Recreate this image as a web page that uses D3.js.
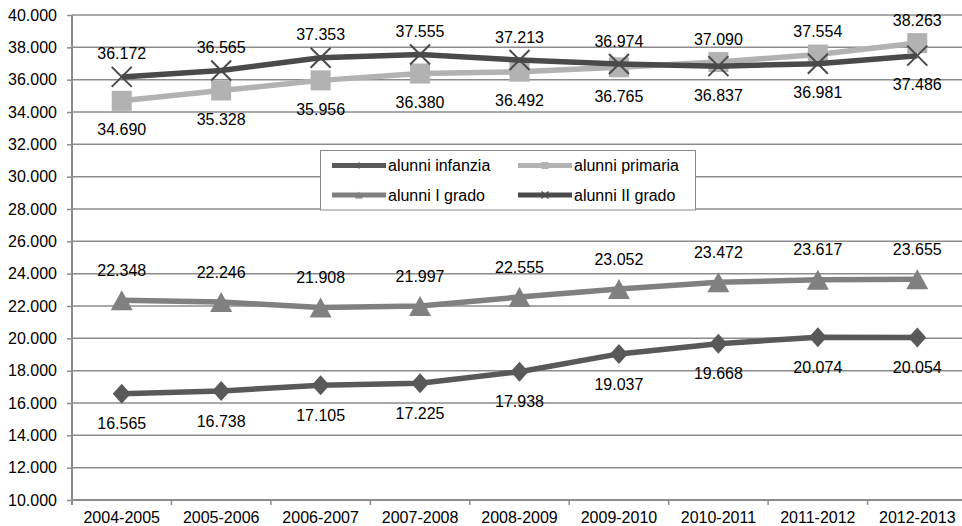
<!DOCTYPE html>
<html>
<head>
<meta charset="utf-8">
<script src="https://cdn.jsdelivr.net/npm/d3@7"></script>
<style>
  html, body { margin: 0; padding: 0; background: #fff; }
  svg { display: block; font-family: "Liberation Sans", Arial, sans-serif; }
</style>
</head>
<body>
<svg id="chart" width="962" height="526"></svg>
<script>
const categories = ["2004-2005","2005-2006","2006-2007","2007-2008","2008-2009","2009-2010","2010-2011","2011-2012","2012-2013"];
const alunniInfanzia = [16565, 16738, 17105, 17225, 17938, 19037, 19668, 20074, 20054];
const alunniPrimaria = [34690, 35328, 35956, 36380, 36492, 36765, 37090, 37554, 38263];
const alunniIGrado   = [22348, 22246, 21908, 21997, 22555, 23052, 23472, 23617, 23655];
const alunniIIGrado  = [36172, 36565, 37353, 37555, 37213, 36974, 36837, 36981, 37486];
const seriesNames = ["alunni infanzia", "alunni primaria", "alunni I grado", "alunni II grado"];
const yTicks = [10000, 12000, 14000, 16000, 18000, 20000, 22000, 24000, 26000, 28000, 30000, 32000, 34000, 36000, 38000, 40000];

(function () {
const itLocale = d3.formatLocale({decimal: ",", thousands: ".", grouping: [3], currency: ["€", ""]});
const fmt = itLocale.format(",");

const svg = d3.select("#chart");
const mLeft = 72, mRight = 967, mTop = 15, mBottom = 500;

const x = d3.scaleBand().domain(categories).range([mLeft, mRight]).padding(0);
const y = d3.scaleLinear().domain([10000, 40000]).range([mBottom, mTop]);
const cx = c => x(c) + x.bandwidth() / 2;

const gridColor = "#8c8c8c";

// gridlines
svg.append("g").selectAll("line").data(yTicks.filter(t => t > 10000)).join("line")
  .attr("x1", mLeft).attr("x2", 962)
  .attr("y1", d => y(d)).attr("y2", d => y(d))
  .attr("stroke", gridColor).attr("stroke-width", 1.5);

// y axis
const yAxis = svg.append("g").attr("transform", `translate(${mLeft},0)`)
  .call(d3.axisLeft(y).tickValues(yTicks).tickFormat(fmt).tickSize(5).tickPadding(10));
yAxis.select(".domain").attr("stroke", gridColor).attr("stroke-width", 2).attr("d", `M0,${mTop}V${mBottom + 5}`);
yAxis.selectAll(".tick line").attr("stroke", gridColor).attr("stroke-width", 1.5);
yAxis.selectAll(".tick text").attr("font-size", 16).attr("fill", "#000")
  .attr("font-family", "'Liberation Sans', Arial, sans-serif").attr("x", -15);

// x axis
const xAxis = svg.append("g").attr("transform", `translate(0,${mBottom})`)
  .call(d3.axisBottom(x).tickSize(0).tickPadding(0));
xAxis.select(".domain").attr("stroke", gridColor).attr("stroke-width", 2).attr("d", `M${mLeft},0H962`);
xAxis.selectAll(".tick text").attr("font-size", 16).attr("fill", "#000")
  .attr("font-family", "'Liberation Sans', Arial, sans-serif").attr("y", 23).attr("dy", 0);
// boundary tick marks
svg.append("g").selectAll("line").data(categories.slice(1)).join("line")
  .attr("x1", d => x(d)).attr("x2", d => x(d))
  .attr("y1", mBottom).attr("y2", mBottom + 5)
  .attr("stroke", gridColor).attr("stroke-width", 1.5);

const series = [
  {name: seriesNames[0], values: alunniInfanzia, color: "#595959", marker: "diamond", pair: alunniIGrado, upOff: 30, downOff: 30},
  {name: seriesNames[1], values: alunniPrimaria, color: "#b2b2b2", marker: "square", pair: alunniIIGrado, upOff: 23, downOff: 29},
  {name: seriesNames[2], values: alunniIGrado, color: "#808080", marker: "triangle", pair: alunniInfanzia, upOff: 30, downOff: 30},
  {name: seriesNames[3], values: alunniIIGrado, color: "#4a4a4a", marker: "cross", pair: alunniPrimaria, upOff: 23, downOff: 29}
];

function drawMarker(g, type, px, py, color, s) {
  if (type === "diamond") {
    g.append("path").attr("d", `M${px},${py - s}L${px + s * 0.9},${py}L${px},${py + s}L${px - s * 0.9},${py}Z`).attr("fill", color);
  } else if (type === "square") {
    g.append("rect").attr("x", px - s).attr("y", py - s).attr("width", 2 * s).attr("height", 2 * s).attr("fill", color);
  } else if (type === "triangle") {
    g.append("path").attr("d", `M${px},${py - s}L${px + s * 1.1},${py + s}L${px - s * 1.1},${py + s}Z`).attr("fill", color);
  } else if (type === "cross") {
    g.append("path").attr("d", `M${px - s},${py - s}L${px + s},${py + s}M${px + s},${py - s}L${px - s},${py + s}`)
      .attr("stroke", color).attr("stroke-width", s > 5 ? 2 : 1.5).attr("fill", "none");
  }
}

const line = d3.line().x((d, i) => cx(categories[i])).y(d => y(d));
const plot = svg.append("g");
series.forEach(s => {
  const g = plot.append("g");
  g.append("path").datum(s.values).attr("d", line)
    .attr("fill", "none").attr("stroke", s.color).attr("stroke-width", 5.5).attr("stroke-linejoin", "round");
  s.values.forEach((v, i) => drawMarker(g, s.marker, cx(categories[i]), y(v), s.color, 10));
});

// data labels
const labels = svg.append("g");
series.forEach(s => {
  s.values.forEach((v, i) => {
    const above = v > s.pair[i];
    const py = y(v) + (above ? -s.upOff : s.downOff);
    labels.append("text").attr("x", cx(categories[i])).attr("y", py).attr("dy", "0.35em")
      .attr("text-anchor", "middle").attr("font-size", 16).attr("fill", "#000").text(fmt(v));
  });
});

// legend
const lg = svg.append("g");
lg.append("rect").attr("x", 320.5).attr("y", 150.5).attr("width", 375).attr("height", 59.5)
  .attr("fill", "#fff").attr("stroke", "#8c8c8c").attr("stroke-width", 1);
const legPos = [[332, 165.5], [518, 165.5], [332, 195], [518, 195]];
series.forEach((s, k) => {
  const [lx, ly] = legPos[k];
  lg.append("line").attr("x1", lx).attr("x2", lx + 54).attr("y1", ly).attr("y2", ly)
    .attr("stroke", s.color).attr("stroke-width", 5);
  drawMarker(lg, s.marker, lx + 27, ly, s.color, 3.5);
  lg.append("text").attr("x", lx + 56).attr("y", ly).attr("dy", "0.35em")
    .attr("font-size", 16).attr("fill", "#000").text(s.name);
});
})();
</script>
</body>
</html>
